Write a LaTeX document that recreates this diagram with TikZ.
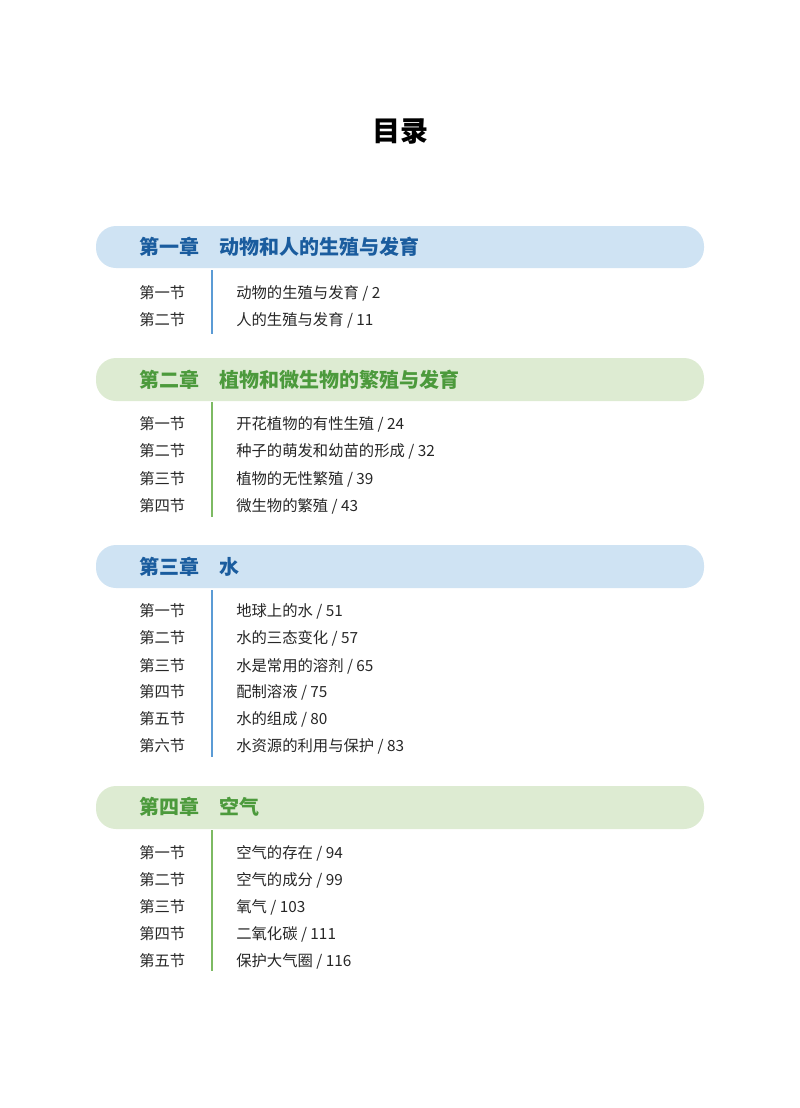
\documentclass[tikz,border=0pt]{standalone}
\usepackage{fontspec}
\newfontfamily\cjk{Noto Sans CJK SC}
\definecolor{bbar}{HTML}{CFE3F3}
\definecolor{btxt}{HTML}{1A5C9E}
\definecolor{gbar}{HTML}{DDEBD2}
\definecolor{gtxt}{HTML}{4C9A3C}
\definecolor{bline}{HTML}{5B9BD5}
\definecolor{gline}{HTML}{7DBA63}
\begin{document}
\begin{tikzpicture}[x=0.75pt,y=-0.75pt,
  bar/.style={rounded corners=15pt,draw=none},
  chap/.style={anchor=west,font=\cjk\bfseries\fontsize{15}{18}\selectfont,inner sep=0},
  sec/.style={anchor=west,font=\cjk\fontsize{11.5}{14}\selectfont,inner sep=0,text=black!85}]
\useasboundingbox (0,0) rectangle (800,1108);
\node[font=\cjk\bfseries\fontsize{21}{25}\selectfont] (title) at (400,131) {目录};
% chapter 1
\fill[bbar,bar] (96,226) rectangle (704,268);
\node[chap,text=btxt] (c1) at (139,247) {第一章\hspace{1em}动物和人的生殖与发育};
\draw[bline,line width=1.2pt] (212,270) -- (212,334);
\node[sec] (c1s1) at (139,293) {第一节}; \node[sec] (c1t1) at (236,293) {动物的生殖与发育 / 2};
\node[sec] (c1s2) at (139,320) {第二节}; \node[sec] (c1t2) at (236,320) {人的生殖与发育 / 11};
% chapter 2
\fill[gbar,bar] (96,358) rectangle (704,401);
\node[chap,text=gtxt] (c2) at (139,380) {第二章\hspace{1em}植物和微生物的繁殖与发育};
\draw[gline,line width=1.2pt] (212,402) -- (212,517);
\node[sec] (c2s1) at (139,424) {第一节}; \node[sec] (c2t1) at (236,424) {开花植物的有性生殖 / 24};
\node[sec] (c2s2) at (139,451) {第二节}; \node[sec] (c2t2) at (236,451) {种子的萌发和幼苗的形成 / 32};
\node[sec] (c2s3) at (139,479) {第三节}; \node[sec] (c2t3) at (236,479) {植物的无性繁殖 / 39};
\node[sec] (c2s4) at (139,506) {第四节}; \node[sec] (c2t4) at (236,506) {微生物的繁殖 / 43};
% chapter 3
\fill[bbar,bar] (96,545) rectangle (704,588);
\node[chap,text=btxt] (c3) at (139,567) {第三章\hspace{1em}水};
\draw[bline,line width=1.2pt] (212,590) -- (212,757);
\node[sec] (c3s1) at (139,611) {第一节}; \node[sec] (c3t1) at (236,611) {地球上的水 / 51};
\node[sec] (c3s2) at (139,638) {第二节}; \node[sec] (c3t2) at (236,638) {水的三态变化 / 57};
\node[sec] (c3s3) at (139,666) {第三节}; \node[sec] (c3t3) at (236,666) {水是常用的溶剂 / 65};
\node[sec] (c3s4) at (139,692) {第四节}; \node[sec] (c3t4) at (236,692) {配制溶液 / 75};
\node[sec] (c3s5) at (139,719) {第五节}; \node[sec] (c3t5) at (236,719) {水的组成 / 80};
\node[sec] (c3s6) at (139,746) {第六节}; \node[sec] (c3t6) at (236,746) {水资源的利用与保护 / 83};
% chapter 4
\fill[gbar,bar] (96,786) rectangle (704,829);
\node[chap,text=gtxt] (c4) at (139,807) {第四章\hspace{1em}空气};
\draw[gline,line width=1.2pt] (212,830) -- (212,971);
\node[sec] (c4s1) at (139,853) {第一节}; \node[sec] (c4t1) at (236,853) {空气的存在 / 94};
\node[sec] (c4s2) at (139,880) {第二节}; \node[sec] (c4t2) at (236,880) {空气的成分 / 99};
\node[sec] (c4s3) at (139,907) {第三节}; \node[sec] (c4t3) at (236,907) {氧气 / 103};
\node[sec] (c4s4) at (139,934) {第四节}; \node[sec] (c4t4) at (236,934) {二氧化碳 / 111};
\node[sec] (c4s5) at (139,961) {第五节}; \node[sec] (c4t5) at (236,961) {保护大气圈 / 116};
\end{tikzpicture}
\end{document}
